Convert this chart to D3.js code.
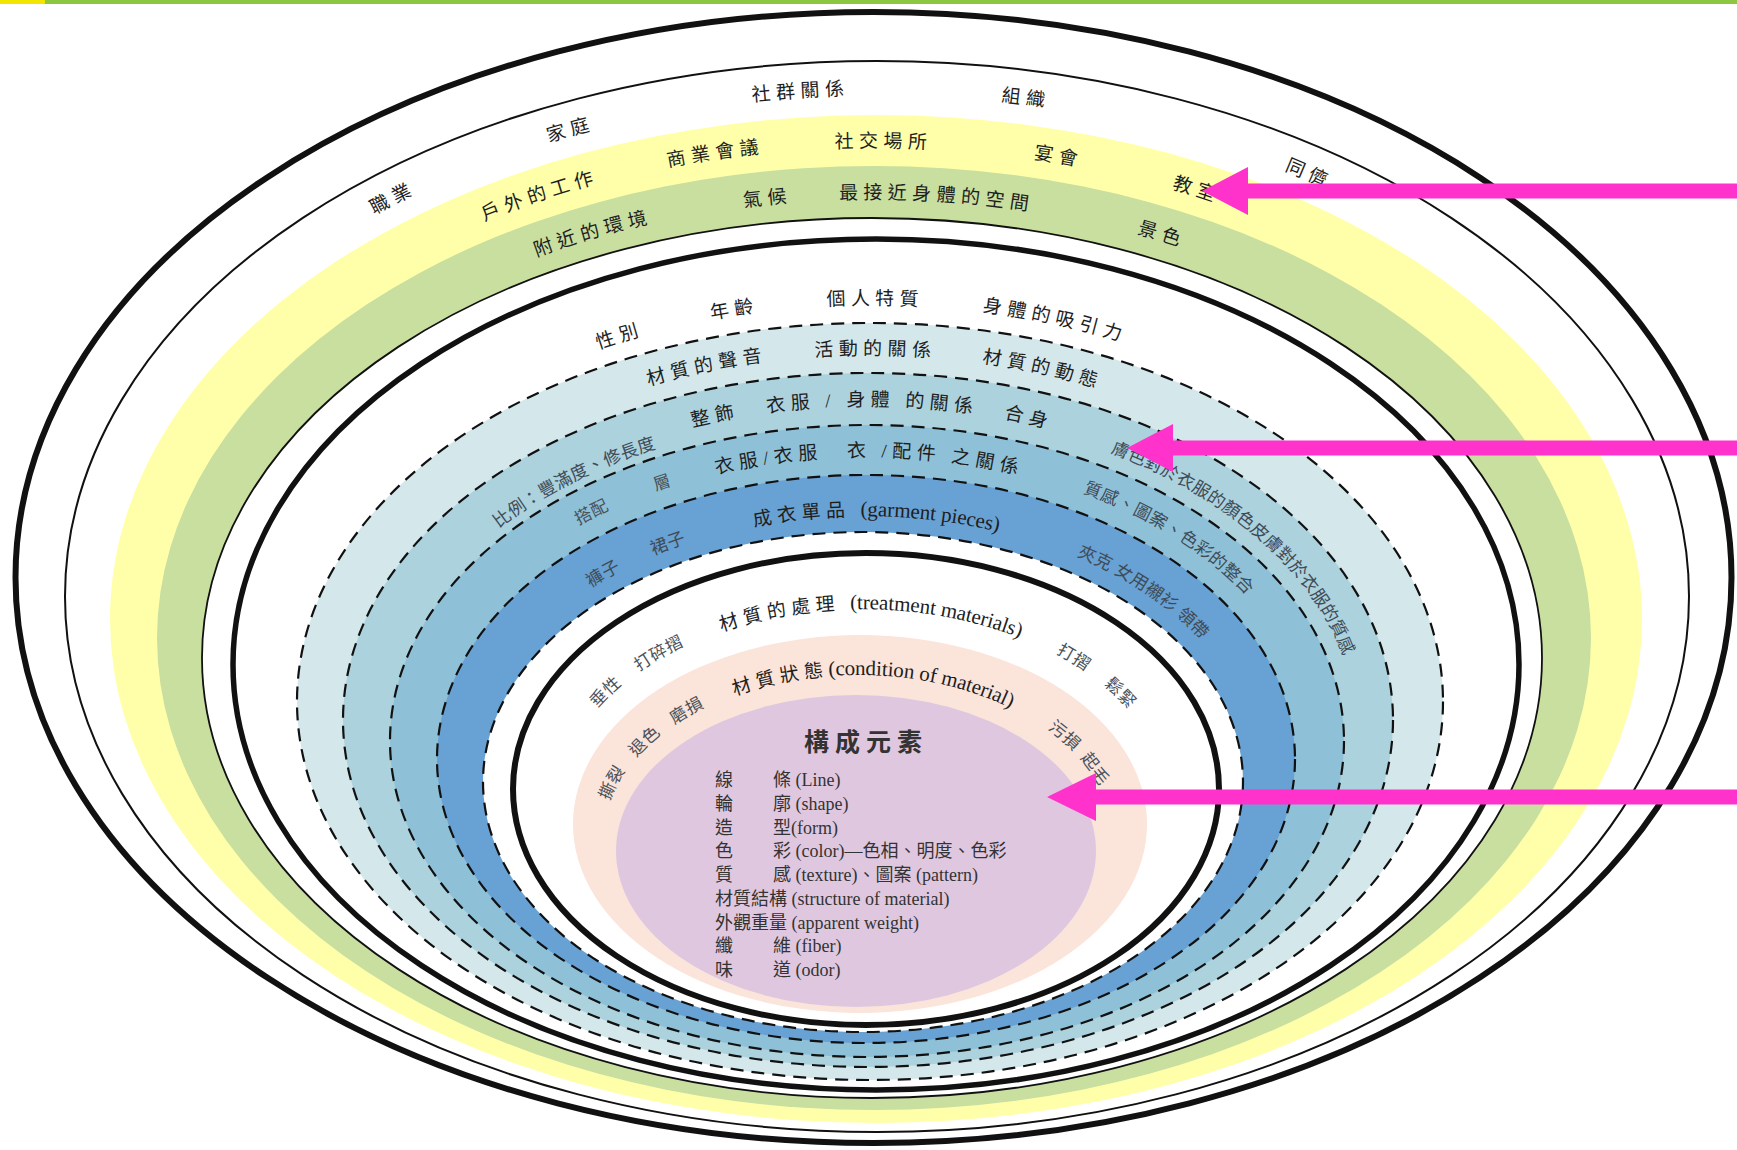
<!DOCTYPE html>
<html><head><meta charset="utf-8">
<script src="https://cdn.jsdelivr.net/npm/d3@7"></script>
<style>
html,body{margin:0;padding:0;background:#fff;}
svg{display:block;}
</style></head><body>
<svg id="chart" width="1737" height="1150"></svg>
<script>
// ---------------- DATA (labels of each ring, outer to inner) ----------------
const socialLabels      = ["職業","家庭","社群關係","組織","同儕"];
const placeLabels       = ["戶外的工作","商業會議","社交場所","宴會","教室"];
const environmentLabels = ["附近的環境","氣候","最接近身體的空間","景色"];
const personalLabels    = ["性別","年齡","個人特質","身體的吸引力"];
const sensoryLabels     = ["材質的聲音","活動的關係","材質的動態"];
const bodyLabels        = ["比例：豐滿度、修長度","整飾","衣服 / 身體 的關係","合身","膚色對於衣服的顏色皮膚對於衣服的質感"];
const combinationLabels = ["搭配","層","衣服/衣服　衣 /配件 之關係","質感、圖案、色彩的整合"];
const garmentLabels     = ["褲子","裙子","成衣單品 (garment pieces)","夾克 女用襯衫 領帶"];
const treatmentLabels   = ["垂性","打碎摺","材質的處理 (treatment materials)","打摺","鬆緊"];
const conditionLabels   = ["撕裂","退色","磨損","材質狀態(condition of material)","污損","起毛"];
const coreTitle   = "構成元素";
const coreTerms   = ["線","輪","造","色","質","材質結構","外觀重量","纖","味"];
const coreDetails = ["條 (Line)","廓 (shape)","型(form)","彩 (color)—色相、明度、色彩","感 (texture)、圖案 (pattern)","(structure of material)","(apparent weight)","維 (fiber)","道 (odor)"];

// ---------------- LAYOUT ----------------
const svg = d3.select("#chart");
const FONT = "'Liberation Serif','Noto Sans CJK TC',serif";

const E = {
  outer:  {cx:873.5, cy:577.5, rx:858, ry:565.5},
  thin:   {cx:877,   cy:596.5, rx:812, ry:535.5},
  yellow: {cx:876,   cy:619,   rx:766, ry:504},
  green:  {cx:874,   cy:638,   rx:717, ry:472},
  greenIn:{cx:872,   cy:658,   rx:670, ry:440},
  thick2: {cx:876,   cy:664.5, rx:643, ry:425.5},
  d1:     {cx:870,   cy:701.5, rx:573, ry:378.5},
  d2:     {cx:868,   cy:720,   rx:525, ry:347},
  d3:     {cx:867,   cy:741,   rx:477, ry:316},
  d4:     {cx:866,   cy:759,   rx:429, ry:284},
  d5:     {cx:863,   cy:782,   rx:380, ry:250},
  thick3: {cx:866,   cy:789,   rx:353, ry:236},
  pink:   {cx:860,   cy:824,   rx:287, ry:189},
  purple: {cx:856,   cy:851,   rx:240, ry:156}
};
const layers = [
  {e:"outer",  fill:"#ffffff", stroke:"#111", sw:6},
  {e:"thin",   fill:"#ffffff", stroke:"#111", sw:2},
  {e:"yellow", fill:"#ffffaa", stroke:"none", sw:0},
  {e:"green",  fill:"#c8dfa0", stroke:"none", sw:0},
  {e:"greenIn",fill:"#ffffff", stroke:"#111", sw:1.8},
  {e:"thick2", fill:"#ffffff", stroke:"#111", sw:5.5},
  {e:"d1",     fill:"#d4e8ec", stroke:"#111", sw:2.2, dash:"13 8"},
  {e:"d2",     fill:"#acd2de", stroke:"#111", sw:2.2, dash:"13 8"},
  {e:"d3",     fill:"#8ec1d7", stroke:"#111", sw:2.2, dash:"13 8"},
  {e:"d4",     fill:"#68a1d3", stroke:"#111", sw:2.2, dash:"13 8"},
  {e:"d5",     fill:"#ffffff", stroke:"#111", sw:2.2, dash:"13 8"},
  {e:"thick3", fill:"#ffffff", stroke:"#111", sw:6},
  {e:"pink",   fill:"#fbe4da", stroke:"none", sw:0},
  {e:"purple", fill:"#dfc8df", stroke:"none", sw:0}
];

// top strip
svg.append("rect").attr("x",0).attr("y",0).attr("width",1737).attr("height",4).attr("fill","#8dc63f");
svg.append("rect").attr("x",0).attr("y",0).attr("width",45).attr("height",4).attr("fill","#f2e600");

const ellG = svg.append("g");
layers.forEach(l=>{
  const e=E[l.e];
  ellG.append("ellipse").attr("cx",e.cx).attr("cy",e.cy).attr("rx",e.rx).attr("ry",e.ry)
    .attr("fill",l.fill).attr("stroke",l.stroke).attr("stroke-width",l.sw)
    .attr("stroke-dasharray",l.dash||null);
});

// ring label guides
const styles = {
  main:  {size:19, ls:5.5, fill:"#1e1e1e"},
  minor: {size:17, ls:1,   fill:"#4a525a"},
  side:  {size:17.5, ls:0.5, fill:"#3f4c58"}
};
const rings = [
  {labels:socialLabels,      from:"thin",   to:"yellow",  t:0.5, style:"main",
   at:[[393,199],[571,133],[800,94],[1025,102],[1307,177]]},
  {labels:placeLabels,       from:"yellow", to:"green",   t:0.5, style:"main",
   at:[[540,197],[715,153],[883,141],[1058,156],[1197,188]]},
  {labels:environmentLabels, from:"green",  to:"greenIn", t:0.5, style:"main",
   at:[[593,235],[767,199],[936,199],[1161,236]]},
  {labels:personalLabels,    from:"thick2", to:"d1",      t:0.7, style:"main",
   at:[[618,332],[733,305],[875,297],[1055,318]]},
  {labels:sensoryLabels,     from:"d1",     to:"d2",      t:0.5, style:"main",
   at:[[705,362],[875,343],[1044,362]]},
  {labels:bodyLabels,        from:"d2",     to:"d3",      t:0.5, style:"main",
   at:[[574,482,0.72,"side"],[716,421],[872,410],[1027,424],[1253,525,0.6,"side"]]},
  {labels:combinationLabels, from:"d3",     to:"d4",      t:0.5, style:"main",
   at:[[593,515,0.5,"minor"],[663,485,0.5,"minor"],[869,457],[1170,535,0.5,"side"]]},
  {labels:garmentLabels,     from:"d4",     to:"d5",      t:0.6, style:"main",
   at:[[604,576,0.6,"side"],[669,548,0.6,"side"],[876,513],[1147,585,0.6,"side"]]},
  {labels:treatmentLabels,   from:"thick3", to:"pink",    t:0.6, style:"main",
   at:[[604,690,0.6,"minor"],[657,650,0.6,"minor"],[871,605],[1074,657,0.6,"minor"],[1120,693,0.6,"minor"]]},
  {labels:conditionLabels,   from:"pink",   to:"purple",  t:0.55, style:"main",
   at:[[607,780,0.55,"minor"],[650,747,0.55,"minor"],[688,713,0.55,"minor"],[874,670],[1063,737,0.55,"minor"],[1093,770,0.55,"minor"]]}
];

function ellPath(e){
  return `M${e.cx},${e.cy+e.ry} A${e.rx},${e.ry} 0 0 1 ${e.cx},${e.cy-e.ry} A${e.rx},${e.ry} 0 0 1 ${e.cx},${e.cy+e.ry}`;
}
function offsetFor(node, pt){
  const L=node.getTotalLength();
  let best=0, bd=Infinity;
  const N=500;
  for(let i=0;i<=N;i++){const l=L*i/N; const p=node.getPointAtLength(l);
    const d=(p.x-pt[0])**2+(p.y-pt[1])**2; if(d<bd){bd=d;best=l;}}
  const step=L/N; let b2=best;
  for(let l=best-step;l<=best+step;l+=0.5){const p=node.getPointAtLength(l);
    const d=(p.x-pt[0])**2+(p.y-pt[1])**2; if(d<bd){bd=d;b2=l;}}
  return b2;
}

const defs = svg.append("defs");
const textG = svg.append("g");
let pid=0;
rings.forEach(r=>{
  r.labels.forEach((lab,i)=>{
    const a=r.at[i];
    const t=(a[2]!==undefined)?a[2]:r.t;
    const st=styles[a[3]||r.style];
    const e=d3.interpolateObject(E[r.from],E[r.to])(t);
    const id="guide"+(pid++);
    const p=defs.append("path").attr("id",id).attr("d",ellPath(e));
    const off=offsetFor(p.node(),a);
    const txt=textG.append("text").attr("font-family",FONT).attr("font-size",st.size)
      .attr("fill",st.fill).attr("dominant-baseline","central").attr("text-anchor","middle");
    const tp=txt.append("textPath").attr("href","#"+id).attr("startOffset",off);
    const k=lab.indexOf("(");
    if(k>=0){
      tp.append("tspan").style("letter-spacing",st.ls+"px").text(lab.slice(0,k));
      tp.append("tspan").attr("font-size",21).style("letter-spacing","0px").text(lab.slice(k));
    } else {
      tp.append("tspan").style("letter-spacing",st.ls+"px").text(lab);
    }
  });
});

// core text
const core = svg.append("g").attr("font-family",FONT).attr("fill","#333");
core.append("text").attr("x",866).attr("y",742).attr("text-anchor","middle").attr("dominant-baseline","central")
  .attr("font-size",25).attr("font-weight",600).style("letter-spacing","6px").text(coreTitle);
const lineY = d3.scaleLinear().domain([0,coreTerms.length-1]).range([780,970]);
coreTerms.forEach((term,i)=>{
  const y=lineY(i);
  const t=core.append("text").attr("x",715).attr("y",y).attr("dominant-baseline","central").attr("font-size",18);
  if(term.length===1){
    t.append("tspan").text(term);
    t.append("tspan").attr("x",773).text(coreDetails[i]);
  } else {
    t.append("tspan").text(term+" ");
    t.append("tspan").text(coreDetails[i]);
  }
});

// arrows
const arrows = [{y:191, tip:1202, base:1248}, {y:448, tip:1127, base:1173}, {y:797, tip:1047, base:1096}];
arrows.forEach(a=>{
  const hh=24, sh=7.5, xe=1737;
  const d=`M${a.tip},${a.y} L${a.base},${a.y-hh} L${a.base},${a.y-sh} L${xe},${a.y-sh} L${xe},${a.y+sh} L${a.base},${a.y+sh} L${a.base},${a.y+hh} Z`;
  svg.append("path").attr("d",d).attr("fill","#ff33cc");
});
</script>
</body></html>
